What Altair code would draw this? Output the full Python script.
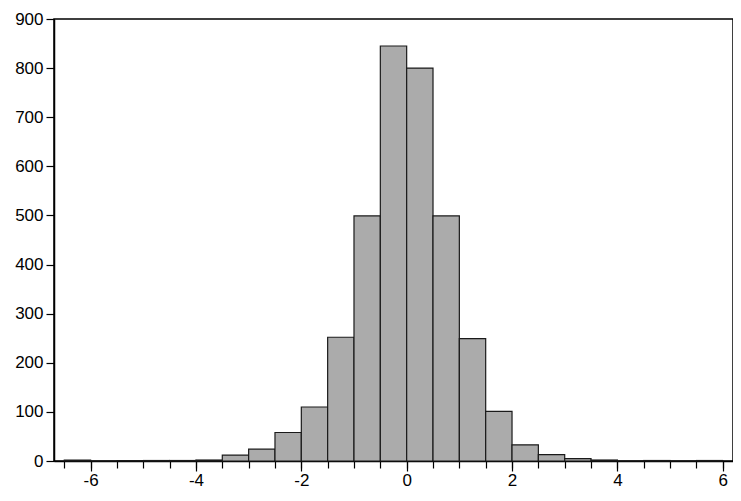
import altair as alt
import pandas as pd

# Histogram data (bin width 0.5)
bin_start = [-6.5, -6.0, -5.5, -5.0, -4.5, -4.0, -3.5, -3.0, -2.5, -2.0, -1.5, -1.0,
             -0.5, 0.0, 0.5, 1.0, 1.5, 2.0, 2.5, 3.0, 3.5, 4.0, 4.5, 5.0, 5.5]
counts = [2, 0, 1, 1, 1, 2, 12, 24, 58, 110, 252, 499,
          845, 800, 499, 249, 101, 33, 13, 5, 2, 0, 1, 0, 1]
bin_width = 0.5

x_minor_ticks = [v / 2 for v in range(-13, 13)]
x_major_ticks = [-6, -4, -2, 0, 2, 4, 6]
y_ticks = [0, 100, 200, 300, 400, 500, 600, 700, 800, 900]

df = pd.DataFrame({
    "start": bin_start,
    "end": [s + bin_width for s in bin_start],
    "count": counts,
})

FONT = "Liberation Sans"
x_scale = alt.Scale(domain=[-6.6, 6.1], nice=False, zero=False)
y_scale = alt.Scale(domain=[0, 900], nice=False)

bars = alt.Chart(df).mark_bar(
    fill="#ababab", stroke="#1a1a1a", strokeWidth=1.2, orient="vertical"
).encode(
    x=alt.X("start:Q", scale=x_scale, title=None,
            axis=alt.Axis(orient="bottom", values=x_minor_ticks, labels=False,
                          tickSize=7, tickColor="black", tickWidth=1.2,
                          domainColor="black", domainWidth=1.5, grid=False)),
    x2="end:Q",
    y=alt.Y("count:Q", scale=y_scale, title=None,
            axis=alt.Axis(values=y_ticks, tickSize=8, tickColor="black", tickWidth=1.2,
                          domainColor="black", domainWidth=1.5, grid=False,
                          labelFont=FONT, labelFontSize=17, labelColor="black",
                          labelPadding=3)),
    y2=alt.datum(0),
)

labels_layer = alt.Chart(df).mark_point(opacity=0).encode(
    x=alt.X("start:Q", scale=x_scale, title=None,
            axis=alt.Axis(orient="bottom", values=x_major_ticks, tickSize=10,
                          tickColor="black", tickWidth=1.2, domain=False, grid=False,
                          labelFont=FONT, labelFontSize=17, labelColor="black",
                          labelPadding=1, labelFlush=False,
                          labelExpr="'' + datum.value")),
)

chart = alt.layer(bars, labels_layer).resolve_axis(x="independent").properties(
    width=679, height=442,
    padding={"left": 46, "top": 11, "right": 0, "bottom": 30},
    autosize=alt.AutoSizeParams(type="none"),
    background="white",
).configure_view(stroke="black", strokeWidth=1.5)

chart.save("out.html", embed_options={"renderer": "svg", "actions": False})
